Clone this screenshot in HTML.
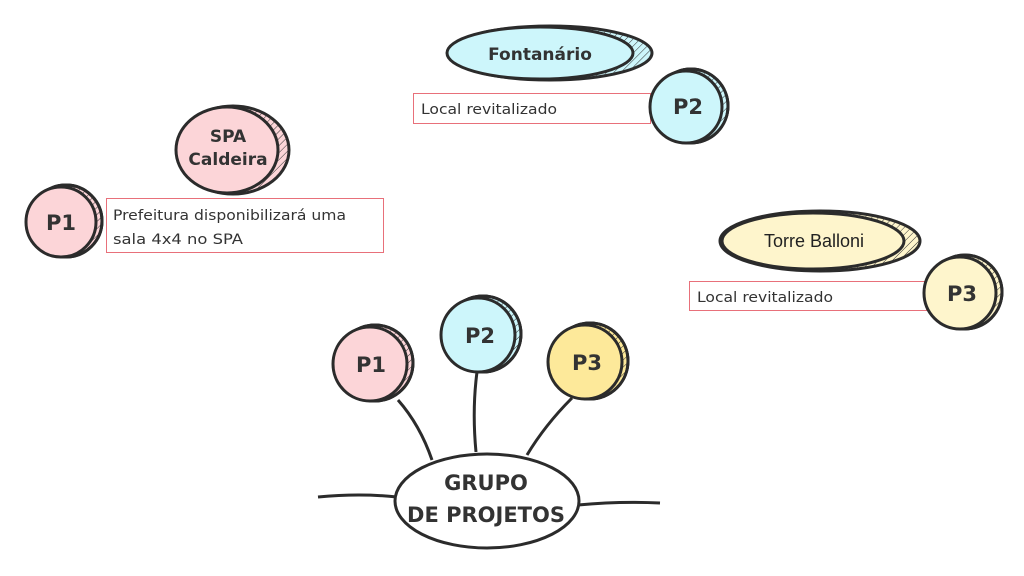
<!DOCTYPE html>
<html><head><meta charset="utf-8"><style>
html,body{margin:0;padding:0;background:#fff;}
svg{display:block;font-family:"Liberation Sans",sans-serif;}
.b{font-weight:bold;fill:#333;font-family:"DejaVu Sans","Liberation Sans",sans-serif;}
.t{font-family:"DejaVu Sans","Liberation Sans",sans-serif;font-size:14.5px;fill:#333;}
</style></head><body>
<svg width="1024" height="576" viewBox="0 0 1024 576">
<defs>
<pattern id="h" width="5" height="5" patternUnits="userSpaceOnUse" patternTransform="rotate(45)">
<line x1="0" y1="0" x2="0" y2="5" stroke="#333" stroke-width="1"/></pattern>
</defs>
<g stroke="#2b2b2b" stroke-width="3" fill="none">
<path d="M398 400 Q420 425 432 460"/>
<path d="M477 372 Q472 410 476 452"/>
<path d="M572 398 Q545 425 527 455"/>
<path d="M318 497 Q360 493 397 497"/>
<path d="M578 505 Q620 501 660 503"/>
</g>
<ellipse cx="550" cy="53" rx="102" ry="27" fill="#cdf6fb" stroke="#2b2b2b" stroke-width="3"/>
<ellipse cx="550" cy="53" rx="102" ry="27" fill="url(#h)" stroke="none"/>
<ellipse cx="540" cy="53" rx="93" ry="26" fill="#cdf6fb" stroke="#2b2b2b" stroke-width="3"/>
<text x="540" y="60" text-anchor="middle" class="b" font-size="17">Fontanário</text>
<ellipse cx="233" cy="150" rx="56" ry="44" fill="#fcd5d8" stroke="#2b2b2b" stroke-width="3"/>
<ellipse cx="233" cy="150" rx="56" ry="44" fill="url(#h)"/>
<ellipse cx="227" cy="150" rx="51" ry="43" fill="#fcd5d8" stroke="#2b2b2b" stroke-width="3"/>
<text x="228" y="142" text-anchor="middle" class="b" font-size="17">SPA</text>
<text x="228" y="165" text-anchor="middle" class="b" font-size="17">Caldeira</text>
<ellipse cx="820" cy="241" rx="100" ry="30" fill="#fef5cc" stroke="#2b2b2b" stroke-width="3"/>
<ellipse cx="820" cy="241" rx="100" ry="30" fill="url(#h)"/>
<ellipse cx="813" cy="241" rx="91" ry="28" fill="#fef5cc" stroke="#2b2b2b" stroke-width="3"/>
<text x="814" y="247" text-anchor="middle" font-size="18" fill="#222">Torre Balloni</text>
<rect x="413.5" y="93.5" width="237" height="30" fill="#fff" stroke="#e8707a" stroke-width="1"/>
<text x="421" y="114" class="t" textLength="136" lengthAdjust="spacingAndGlyphs">Local revitalizado</text>
<rect x="106.5" y="198.5" width="277" height="54" fill="#fff" stroke="#e8707a" stroke-width="1"/>
<text x="113" y="220" class="t" textLength="233" lengthAdjust="spacingAndGlyphs">Prefeitura disponibilizará uma</text>
<text x="113" y="244" class="t" textLength="130" lengthAdjust="spacingAndGlyphs">sala 4x4 no SPA</text>
<rect x="689.5" y="281.5" width="237" height="29" fill="#fff" stroke="#e8707a" stroke-width="1"/>
<text x="697" y="302" class="t" textLength="136" lengthAdjust="spacingAndGlyphs">Local revitalizado</text>
<g stroke="#2b2b2b" stroke-width="3">
<circle cx="691" cy="106" r="37" fill="#cdf6fb"/><circle cx="691" cy="106" r="37" fill="url(#h)"/>
<circle cx="686" cy="107" r="36" fill="#cdf6fb"/>
<circle cx="66" cy="221" r="36" fill="#fcd5d8"/><circle cx="66" cy="221" r="36" fill="url(#h)"/>
<circle cx="61" cy="222" r="35" fill="#fcd5d8"/>
<circle cx="965" cy="292" r="37" fill="#fef5cc"/><circle cx="965" cy="292" r="37" fill="url(#h)"/>
<circle cx="960" cy="293" r="36" fill="#fef5cc"/>
<circle cx="375" cy="363" r="38" fill="#fcd5d8"/><circle cx="375" cy="363" r="38" fill="url(#h)"/>
<circle cx="370" cy="364" r="37" fill="#fcd5d8"/>
<circle cx="483" cy="334" r="38" fill="#cdf6fb"/><circle cx="483" cy="334" r="38" fill="url(#h)"/>
<circle cx="478" cy="335" r="37" fill="#cdf6fb"/>
<circle cx="590" cy="361" r="38" fill="#fde99a"/><circle cx="590" cy="361" r="38" fill="url(#h)"/>
<circle cx="585" cy="362" r="37" fill="#fde99a"/>
<ellipse cx="487" cy="501" rx="92" ry="47" fill="#fff"/>
</g>
<g class="b" text-anchor="middle" font-size="21">
<text x="688" y="114">P2</text>
<text x="61" y="230">P1</text>
<text x="962" y="301">P3</text>
<text x="371" y="372">P1</text>
<text x="480" y="343">P2</text>
<text x="587" y="370">P3</text>
<text x="486" y="490">GRUPO</text>
<text x="486" y="522">DE PROJETOS</text>
</g>
</svg>
</body></html>
